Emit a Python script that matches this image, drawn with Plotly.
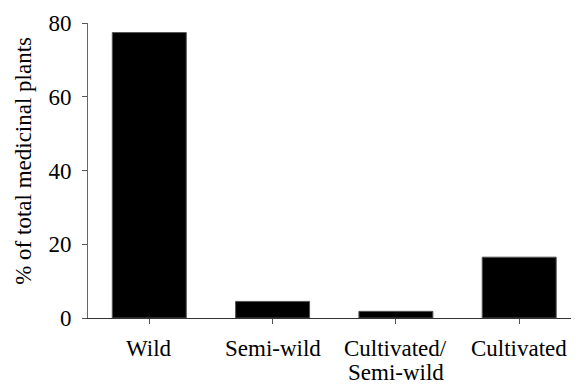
import plotly.graph_objects as go

categories = ["Wild", "Semi-wild", "Cultivated/Semi-wild", "Cultivated"]
label_lines = [["Wild"], ["Semi-wild"], ["Cultivated/", "Semi-wild"], ["Cultivated"]]
values = [77.4, 4.5, 1.8, 16.5]
y_ticks = [0, 20, 40, 60, 80]

fig = go.Figure(
    go.Bar(
        x=categories,
        y=values,
        width=0.6,
        marker=dict(color="black", line=dict(color="#555555", width=1)),
    )
)

font = dict(family="Liberation Serif, Times New Roman, serif", size=23, color="black")

# The page body has an 8px default margin; margins below compensate for it.
plot_w = 579 - 80 - 8
plot_h = 384 - 15 - 74

annotations = [
    dict(
        text="% of total medicinal plants",
        textangle=-90,
        xref="paper",
        yref="paper",
        x=(16 - 80) / plot_w,
        y=(310 - 152.8) / plot_h,
        xanchor="center",
        yanchor="middle",
        showarrow=False,
        font=font,
    )
]
for cat, lines in zip(categories, label_lines):
    for i, line in enumerate(lines):
        annotations.append(
            dict(
                text=line,
                x=cat,
                xref="x",
                y=0,
                yref="paper",
                xanchor="center",
                yanchor="top",
                yshift=-16.5 - 24.5 * i,
                borderpad=0,
                showarrow=False,
                font=font,
            )
        )

fig.update_layout(
    width=579,
    height=384,
    margin=dict(l=80, r=8, t=15, b=74),
    plot_bgcolor="white",
    paper_bgcolor="white",
    showlegend=False,
    font=font,
    xaxis=dict(
        range=[-0.497, 3.485],
        showline=True,
        linecolor="#333333",
        linewidth=1,
        ticks="outside",
        ticklen=5,
        tickcolor="#555555",
        showgrid=False,
        zeroline=False,
        showticklabels=False,
        automargin=False,
    ),
    yaxis=dict(
        range=[0, 80],
        tickvals=y_ticks,
        showline=True,
        linecolor="#666666",
        linewidth=1,
        ticks="outside",
        ticklen=5,
        tickcolor="#555555",
        showgrid=False,
        zeroline=False,
        tickfont=font,
        ticklabelstandoff=6,
        automargin=False,
    ),
    annotations=annotations,
)

fig.write_html("out.html")
